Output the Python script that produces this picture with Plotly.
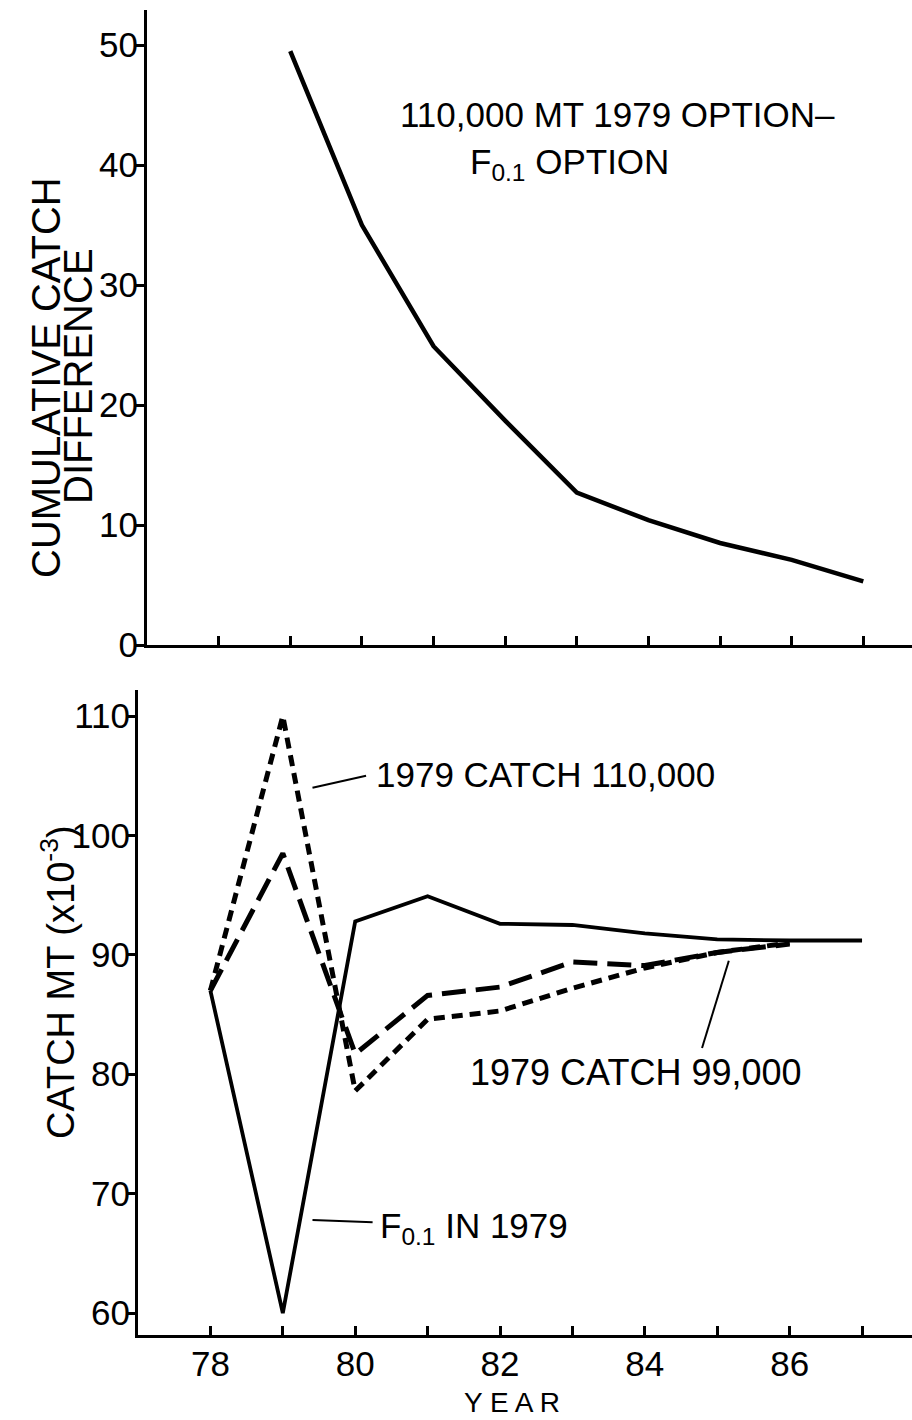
import plotly.graph_objects as go

# ---- data -------------------------------------------------------------
# Upper panel: cumulative catch difference (110,000 MT 1979 option minus F0.1 option)
diff_years = [79, 80, 81, 82, 83, 84, 85, 86, 87]
diff_values = [49.5, 35.0, 24.9, 18.7, 12.7, 10.4, 8.5, 7.1, 5.3]

# Lower panel: projected catch, MT x 10^-3
f01_years = [78, 79, 80, 81, 82, 83, 84, 85, 86, 87]
f01_catch = [87.0, 60.0, 92.8, 94.9, 92.6, 92.5, 91.8, 91.3, 91.2, 91.2]

c99_years = [78, 79, 80, 81, 82, 83, 84, 85, 86]
c99_catch = [87.0, 98.5, 81.7, 86.6, 87.3, 89.4, 89.1, 90.2, 90.9]

c110_years = [78, 79, 80, 81, 82, 83, 84, 85, 86]
c110_catch = [87.0, 110.0, 78.6, 84.6, 85.3, 87.2, 88.9, 90.2, 91.0]

top_yticks = [0, 10, 20, 30, 40, 50]
bottom_yticks = [60, 70, 80, 90, 100, 110]
year_ticks = [78, 79, 80, 81, 82, 83, 84, 85, 86, 87]
labelled_years = [78, 80, 82, 84, 86]

# ---- page geometry ----------------------------------------------------
W, H = 912, 1420
FONT = "Liberation Sans, Arial, sans-serif"


def fx(px):
    return px / W


def fy(py):
    return 1 - py / H


fig = go.Figure()

fig.add_trace(go.Scatter(
    x=diff_years, y=diff_values, mode="lines",
    line=dict(color="black", width=4.5),
    xaxis="x", yaxis="y", showlegend=False))

fig.add_trace(go.Scatter(
    x=f01_years, y=f01_catch, mode="lines",
    line=dict(color="black", width=3.8),
    xaxis="x2", yaxis="y2", showlegend=False))

fig.add_trace(go.Scatter(
    x=c99_years, y=c99_catch, mode="lines",
    line=dict(color="black", width=5, dash="24px,10px"),
    xaxis="x2", yaxis="y2", showlegend=False))

fig.add_trace(go.Scatter(
    x=c110_years, y=c110_catch, mode="lines",
    line=dict(color="black", width=5, dash="11px,7px"),
    xaxis="x2", yaxis="y2", showlegend=False))

axis_common = dict(
    showline=True, linecolor="black", linewidth=3,
    showgrid=False, zeroline=False, automargin=False,
    tickcolor="black", tickwidth=3,
    tickfont=dict(family=FONT, size=35, color="black"),
)

fig.update_layout(
    width=W, height=H, autosize=False, showlegend=False,
    margin=dict(l=0, r=0, t=0, b=0, pad=0),
    paper_bgcolor="white", plot_bgcolor="white",
    xaxis=dict(axis_common, domain=[fx(147), 1], range=[77, 87.68],
               anchor="y", tickmode="array", tickvals=year_ticks,
               showticklabels=False, ticks="inside", ticklen=9),
    yaxis=dict(axis_common, domain=[fy(645), fy(10)], range=[0, 52.92],
               anchor="x", tickmode="array", tickvals=top_yticks,
               ticks="outside", ticklen=9, ticklabelstandoff=-10),
    xaxis2=dict(axis_common, domain=[fx(138), 1], range=[77, 87.69],
                anchor="y2", tickmode="array", tickvals=labelled_years,
                ticks="inside", ticklen=9, ticklabelstandoff=-4,
                minor=dict(tickmode="array", tickvals=year_ticks,
                           ticks="inside", ticklen=9, tickwidth=3,
                           tickcolor="black", showgrid=False)),
    yaxis2=dict(axis_common, domain=[fy(1335), fy(690)], range=[58.16, 112.18],
                anchor="x2", tickmode="array", tickvals=bottom_yticks,
                ticks="outside", ticklen=9, ticklabelstandoff=-11),
)

text_font = dict(family=FONT, size=35, color="black")
annotations = [
    dict(x=fx(398), y=fy(114), xanchor="left", yanchor="middle",
         text="110,000 MT 1979 OPTION\u2013", font=text_font),
    dict(x=fx(468), y=fy(164), xanchor="left", yanchor="middle",
         text="F<sub>0.1</sub> OPTION", font=text_font),
    dict(x=fx(374), y=fy(774), xanchor="left", yanchor="middle",
         text="1979 CATCH 110,000", font=text_font),
    dict(x=fx(468), y=fy(1072), xanchor="left", yanchor="middle",
         text="1979 CATCH 99,000", font=dict(family=FONT, size=36, color="black")),
    dict(x=fx(378), y=fy(1228), xanchor="left", yanchor="middle",
         text="F<sub>0.1</sub> IN 1979", font=text_font),
    dict(x=fx(46), y=fy(378), xanchor="center", yanchor="middle",
         text="CUMULATIVE CATCH", textangle=-90,
         font=dict(family=FONT, size=40, color="black")),
    dict(x=fx(78), y=fy(376), xanchor="center", yanchor="middle",
         text="DIFFERENCE", textangle=-90,
         font=dict(family=FONT, size=40, color="black")),
    dict(x=fx(58), y=fy(982), xanchor="center", yanchor="middle",
         text="CATCH MT (x10<sup>-3</sup>)", textangle=-90,
         font=dict(family=FONT, size=38, color="black")),
    dict(x=fx(512), y=fy(1419), xanchor="center", yanchor="bottom",
         text="Y E A R", borderpad=0,
         font=dict(family=FONT, size=28, color="black")),
]
for a in annotations:
    a.update(xref="paper", yref="paper", showarrow=False)
fig.update_layout(annotations=annotations)

# leader lines from the labels to their curves
leaders = [
    (79.41, 104.0, 80.15, 105.0),
    (79.41, 67.8, 80.24, 67.6),
    (85.16, 89.5, 84.79, 82.2),
]
for x0, y0, x1, y1 in leaders:
    fig.add_shape(type="line", xref="x2", yref="y2",
                  x0=x0, y0=y0, x1=x1, y1=y1,
                  line=dict(color="black", width=2))

fig.write_html("out.html")
